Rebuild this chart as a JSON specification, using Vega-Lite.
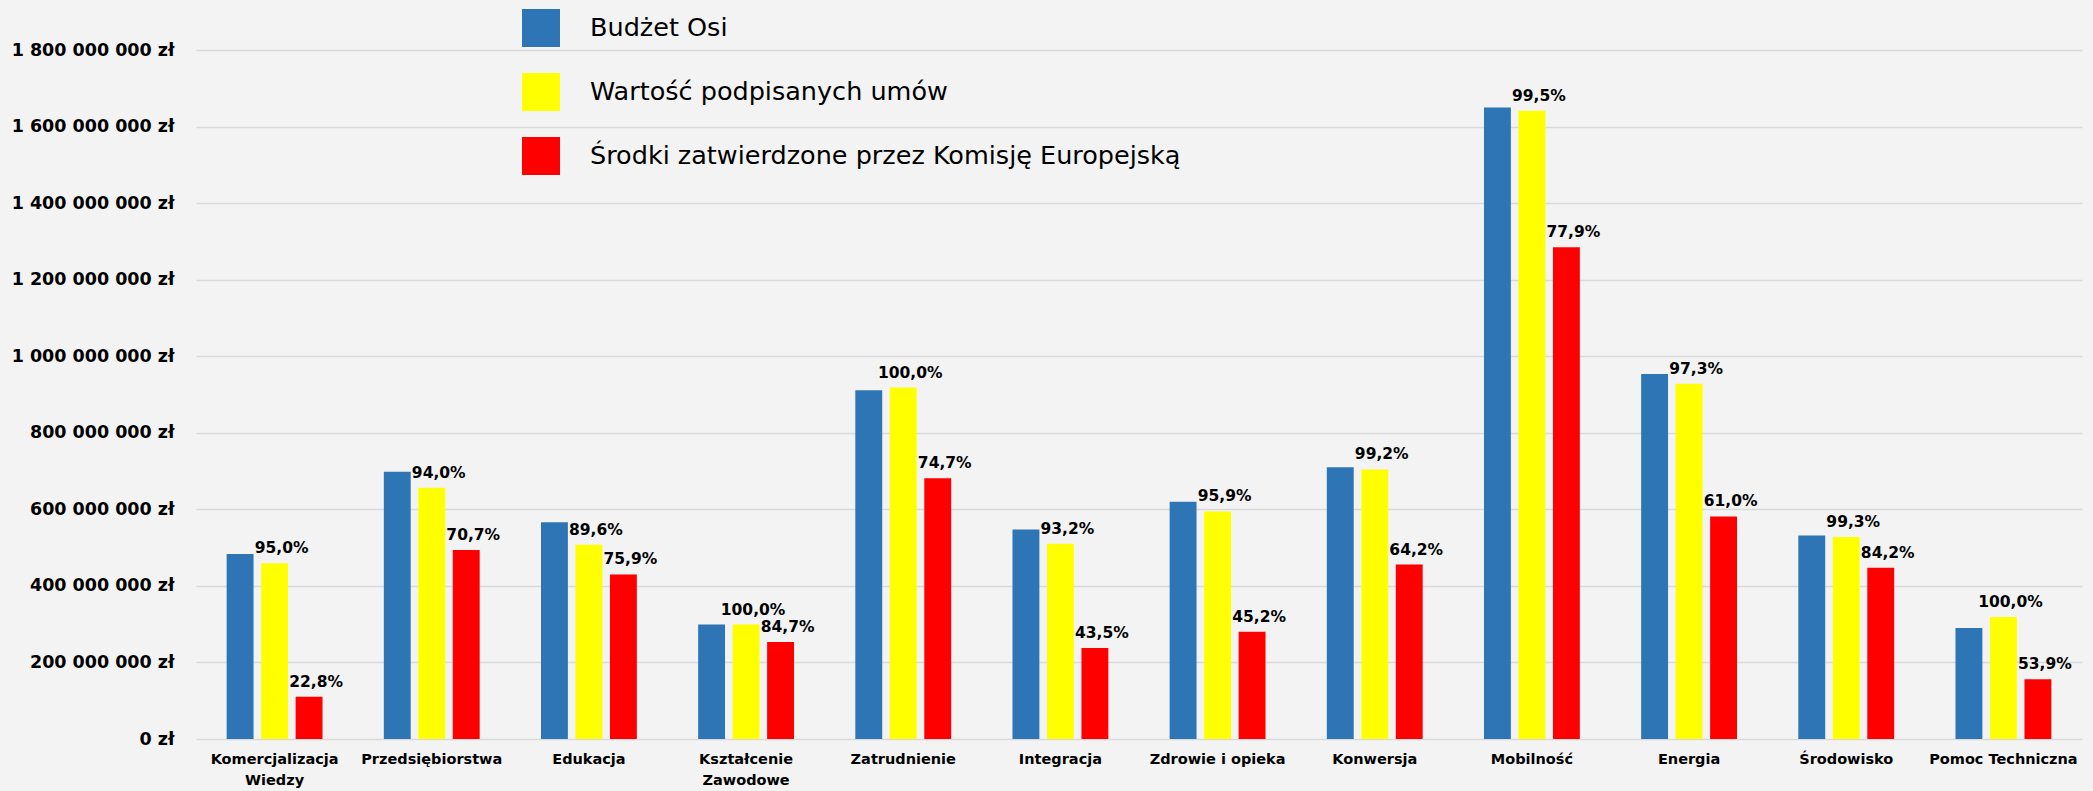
{
  "$schema": "https://vega.github.io/schema/vega-lite/v6.json",
  "width": 1886,
  "height": 689,
  "autosize": {"type": "none"},
  "padding": {"left": 196, "top": 50, "right": 11, "bottom": 52},
  "background": "#f3f3f3",
  "config": {
    "locale": {"number": {"decimal": ",", "thousands": " ", "grouping": [3], "currency": ["", " zł"]}},
    "view": {"stroke": null},
    "font": "DejaVu Sans"
  },
  "data": {
    "values": [
      {"cat": "Komercjalizacja Wiedzy", "series": "Budżet Osi", "value": 483600000, "label": ""},
      {"cat": "Komercjalizacja Wiedzy", "series": "Wartość podpisanych umów", "value": 459400000, "label": "95,0%"},
      {"cat": "Komercjalizacja Wiedzy", "series": "Środki zatwierdzone przez Komisję Europejską", "value": 110300000, "label": "22,8%"},
      {"cat": "Przedsiębiorstwa", "series": "Budżet Osi", "value": 698500000, "label": ""},
      {"cat": "Przedsiębiorstwa", "series": "Wartość podpisanych umów", "value": 656600000, "label": "94,0%"},
      {"cat": "Przedsiębiorstwa", "series": "Środki zatwierdzone przez Komisję Europejską", "value": 493800000, "label": "70,7%"},
      {"cat": "Edukacja", "series": "Budżet Osi", "value": 566400000, "label": ""},
      {"cat": "Edukacja", "series": "Wartość podpisanych umów", "value": 507500000, "label": "89,6%"},
      {"cat": "Edukacja", "series": "Środki zatwierdzone przez Komisję Europejską", "value": 429900000, "label": "75,9%"},
      {"cat": "Kształcenie Zawodowe", "series": "Budżet Osi", "value": 299000000, "label": ""},
      {"cat": "Kształcenie Zawodowe", "series": "Wartość podpisanych umów", "value": 299000000, "label": "100,0%"},
      {"cat": "Kształcenie Zawodowe", "series": "Środki zatwierdzone przez Komisję Europejską", "value": 253300000, "label": "84,7%"},
      {"cat": "Zatrudnienie", "series": "Budżet Osi", "value": 911000000, "label": ""},
      {"cat": "Zatrudnienie", "series": "Wartość podpisanych umów", "value": 918000000, "label": "100,0%"},
      {"cat": "Zatrudnienie", "series": "Środki zatwierdzone przez Komisję Europejską", "value": 681300000, "label": "74,7%"},
      {"cat": "Integracja", "series": "Budżet Osi", "value": 547000000, "label": ""},
      {"cat": "Integracja", "series": "Wartość podpisanych umów", "value": 509800000, "label": "93,2%"},
      {"cat": "Integracja", "series": "Środki zatwierdzone przez Komisję Europejską", "value": 238000000, "label": "43,5%"},
      {"cat": "Zdrowie i opieka", "series": "Budżet Osi", "value": 620000000, "label": ""},
      {"cat": "Zdrowie i opieka", "series": "Wartość podpisanych umów", "value": 594600000, "label": "95,9%"},
      {"cat": "Zdrowie i opieka", "series": "Środki zatwierdzone przez Komisję Europejską", "value": 280200000, "label": "45,2%"},
      {"cat": "Konwersja", "series": "Budżet Osi", "value": 710000000, "label": ""},
      {"cat": "Konwersja", "series": "Wartość podpisanych umów", "value": 704300000, "label": "99,2%"},
      {"cat": "Konwersja", "series": "Środki zatwierdzone przez Komisję Europejską", "value": 455800000, "label": "64,2%"},
      {"cat": "Mobilność", "series": "Budżet Osi", "value": 1649700000, "label": ""},
      {"cat": "Mobilność", "series": "Wartość podpisanych umów", "value": 1641500000, "label": "99,5%"},
      {"cat": "Mobilność", "series": "Środki zatwierdzone przez Komisję Europejską", "value": 1285000000, "label": "77,9%"},
      {"cat": "Energia", "series": "Budżet Osi", "value": 953500000, "label": ""},
      {"cat": "Energia", "series": "Wartość podpisanych umów", "value": 927800000, "label": "97,3%"},
      {"cat": "Energia", "series": "Środki zatwierdzone przez Komisję Europejską", "value": 581600000, "label": "61,0%"},
      {"cat": "Środowisko", "series": "Budżet Osi", "value": 531400000, "label": ""},
      {"cat": "Środowisko", "series": "Wartość podpisanych umów", "value": 527700000, "label": "99,3%"},
      {"cat": "Środowisko", "series": "Środki zatwierdzone przez Komisję Europejską", "value": 447400000, "label": "84,2%"},
      {"cat": "Pomoc Techniczna", "series": "Budżet Osi", "value": 289700000, "label": ""},
      {"cat": "Pomoc Techniczna", "series": "Wartość podpisanych umów", "value": 319000000, "label": "100,0%"},
      {"cat": "Pomoc Techniczna", "series": "Środki zatwierdzone przez Komisję Europejską", "value": 156200000, "label": "53,9%"}
    ]
  },
  "encoding": {
    "x": {
      "field": "cat",
      "type": "nominal",
      "sort": ["Komercjalizacja Wiedzy", "Przedsiębiorstwa", "Edukacja", "Kształcenie Zawodowe", "Zatrudnienie", "Integracja", "Zdrowie i opieka", "Konwersja", "Mobilność", "Energia", "Środowisko", "Pomoc Techniczna"],
      "scale": {"paddingInner": 0.39, "paddingOuter": 0.195},
      "axis": {
        "title": null,
        "domain": false,
        "ticks": false,
        "tickSize": 0,
        "grid": false,
        "labelAngle": 0,
        "labelFont": "DejaVu Sans",
        "labelFontWeight": "bold",
        "labelFontSize": 14.5,
        "labelColor": "#000000",
        "labelPadding": 13,
        "labelLineHeight": 21,
        "labelBaseline": "top",
        "labelLimit": 0,
        "labelExpr": "datum.value == 'Komercjalizacja Wiedzy' ? ['Komercjalizacja', 'Wiedzy'] : datum.value == 'Kształcenie Zawodowe' ? ['Kształcenie', 'Zawodowe'] : datum.value"
      }
    },
    "xOffset": {
      "field": "series",
      "type": "nominal",
      "sort": ["Budżet Osi", "Wartość podpisanych umów", "Środki zatwierdzone przez Komisję Europejską"],
      "scale": {"paddingInner": 0.22, "paddingOuter": 0}
    },
    "y": {
      "field": "value",
      "type": "quantitative",
      "scale": {"domain": [0, 1800000000], "nice": false},
      "axis": {
        "title": null,
        "domain": false,
        "ticks": false,
        "tickSize": 0,
        "values": [0, 200000000, 400000000, 600000000, 800000000, 1000000000, 1200000000, 1400000000, 1600000000, 1800000000],
        "format": "$,.0f",
        "labelFont": "DejaVu Sans",
        "labelFontWeight": "bold",
        "labelFontSize": 17.5,
        "labelColor": "#000000",
        "labelPadding": 22,
        "gridColor": "#d9d9d9",
        "gridWidth": 1.5
      }
    }
  },
  "layer": [
    {
      "mark": {"type": "bar"},
      "encoding": {
        "color": {
          "field": "series",
          "type": "nominal",
          "scale": {
            "domain": ["Budżet Osi", "Wartość podpisanych umów", "Środki zatwierdzone przez Komisję Europejską"],
            "range": ["#2E75B6", "#FFFF00", "#FF0000"]
          },
          "legend": {
            "orient": "none",
            "legendX": 326,
            "legendY": -41,
            "title": null,
            "direction": "vertical",
            "padding": 0,
            "symbolType": "square",
            "symbolSize": 1444,
            "symbolStrokeWidth": 0,
            "symbolOpacity": 1,
            "labelFont": "DejaVu Sans",
            "labelFontSize": 25.5,
            "labelColor": "#000000",
            "labelOffset": 30,
            "labelLimit": 0,
            "rowPadding": 26,
            "labelExpr": "datum.label == 'Budżet Osi' ? '\u00a0Budżet Osi' : datum.label",
            "encode": {
              "symbols": {
                "update": {
                  "fill": {"signal": "datum.value == 'Środki zatwierdzone przez Komisję Europejską' ? '#E42521' : scale('color', datum.value)"}
                }
              }
            }
          }
        }
      }
    },
    {
      "transform": [{"filter": "datum.label != ''"}],
      "mark": {"type": "text", "dy": -10, "dx": 7, "baseline": "alphabetic", "align": "center", "font": "DejaVu Sans", "fontWeight": "bold", "fontSize": 15.5, "color": "#000000"},
      "encoding": {"text": {"field": "label"}}
    }
  ]
}
